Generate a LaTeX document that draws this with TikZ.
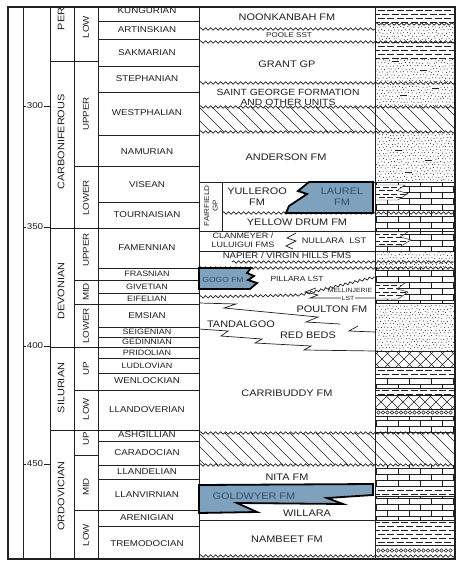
\documentclass[tikz,border=0pt]{standalone}
\usepackage{fontspec}
\setmainfont{Liberation Sans}[FakeStretch=1.15]
\usetikzlibrary{decorations.pathmorphing}

\definecolor{ink}{RGB}{32,32,32}
\definecolor{reefblue}{RGB}{126,161,190}
\definecolor{reefink}{RGB}{50,78,108}

\tikzset{
  colrule/.style={line width=.7pt, draw=ink},
  framerule/.style={line width=1.5pt, draw=ink},
  litrule/.style={line width=.45pt, draw=ink},
  wavyline/.style={colrule, decorate, decoration={snake, amplitude=1.2pt, segment length=5pt}},
  agelbl/.style={font=\fontsize{8.5}{8.5}\selectfont, text=ink, inner sep=1pt},
  unitlbl/.style={font=\fontsize{9.5}{9.5}\selectfont, text=ink, inner sep=0pt, rotate=90},
  epochlbl/.style={font=\fontsize{8.5}{8.5}\selectfont, text=ink, inner sep=0pt, rotate=90},
  stagelbl/.style={font=\fontsize{8.5}{8.5}\selectfont, text=ink, inner sep=0pt},
  thinstage/.style={font=\fontsize{7.8}{7.8}\selectfont, text=ink, inner sep=0pt},
  fmlbl/.style={font=\fontsize{9.5}{11}\selectfont, text=ink, inner sep=0pt, align=center},
  smallfm/.style={font=\fontsize{7.8}{9.5}\selectfont, text=ink, inner sep=0pt, align=center},
  reefbox/.style={fill=reefblue, draw=black, line width=1.8pt, line join=miter},
}

\newcommand{\shalefill}[2]{%
  \begin{scope}
    \clip (375.5,#1) rectangle (454.5,#2);
    \pgfmathtruncatemacro\ya{4*floor(#1/4)}
    \pgfmathtruncatemacro\yb{\ya+4}
    \pgfmathtruncatemacro\yc{#2+4}
    \foreach \yy [count=\k] in {\ya,\yb,...,\yc}{
      \pgfmathsetmacro\ph{4.5*mod(\k,2)}
      \draw[litrule, dash pattern=on 7pt off 2.5pt] (368+\ph,\yy+2) -- (455,\yy+2);
    }
  \end{scope}}

\newcommand{\limefill}[2]{%
  \begin{scope}
    \clip (375.5,#1) rectangle (454.5,#2);
    \pgfmathtruncatemacro\ya{6*floor(#1/6)}
    \pgfmathtruncatemacro\yb{\ya+6}
    \pgfmathtruncatemacro\yc{#2+6}
    \foreach \yy in {\ya,\yb,...,\yc}{
      \draw[litrule] (375,\yy) -- (455,\yy);
      \pgfmathsetmacro\sh{11*mod(\yy/6,2)}
      \foreach \xx in {354,376,...,454}
        \draw[litrule] (\xx+\sh,\yy) -- (\xx+\sh,\yy+6);
    }
  \end{scope}}

\newcommand{\sandfill}[2]{%
  \begin{scope}
    \clip (375.5,#1) rectangle (454.5,#2);
    \pgfmathtruncatemacro\ya{3*floor(#1/3)}
    \pgfmathtruncatemacro\yb{\ya+3}
    \pgfmathtruncatemacro\yc{#2+3}
    \foreach \yy [count=\k] in {\ya,\yb,...,\yc}{
      \pgfmathsetmacro\sh{1.75*mod(\k,2)}
      \foreach \xx in {376,379.5,...,456}
        \fill[ink] (\xx+\sh+0.7*rand,\yy+0.7*rand) circle (.5pt);
    }
  \end{scope}}

\newcommand{\diamondfill}[2]{%
  \begin{scope}
    \clip (375.5,#1) rectangle (454.5,#2);
    \foreach \xx in {330,341,...,460}{
      \draw[litrule] (\xx,#1) -- (\xx+#2-#1,#2);
      \draw[litrule] (\xx,#2) -- (\xx+#2-#1,#1);
    }
  \end{scope}}

\newcommand{\hatchband}[2]{%
  \begin{scope}
    \clip (199,#1) rectangle (455,#2);
    \foreach \xx in {160,173,...,460}
      \draw[colrule, line width=.7pt] (\xx,#1) -- (\xx+#2-#1,#2);
  \end{scope}}

\newcommand{\pebblefill}[2]{%
  \foreach \xx in {378.5,383,...,452}
    \draw[litrule] (\xx,#1/2+#2/2) circle (1.8pt);}

\newcommand{\tonguefill}[3]{%
  \begin{scope}
    \path[fill=white] (375.5,#1) -- (#3,#1) -- (#3-8,#1/2+#2/2-2) -- (#3+3,#1/2+#2/2+1) -- (#3-7,#2) -- (375.5,#2) -- cycle;
    \clip (375.5,#1) -- (#3,#1) -- (#3-8,#1/2+#2/2-2) -- (#3+3,#1/2+#2/2+1) -- (#3-7,#2) -- (375.5,#2) -- cycle;
    \foreach \dy [count=\k] in {2,5.5,...,20}{
      \pgfmathsetmacro\ph{4*mod(\k,2)}
      \draw[litrule, dash pattern=on 6pt off 2.5pt] (370+\ph,#1+\dy) -- (420,#1+\dy);
    }
  \end{scope}
  \draw[litrule] (375.5,#1) -- (#3,#1) -- (#3-8,#1/2+#2/2-2) -- (#3+3,#1/2+#2/2+1) -- (#3-7,#2) -- (375.5,#2);}

\begin{document}
\begin{tikzpicture}[x=1pt,y=-1pt]
  \useasboundingbox (0,0) rectangle (459,565);
  \fill[white] (0,0) rectangle (459,565);
  \pgfmathsetseed{7}

  \shalefill{7}{24}
  \sandfill{24}{42}
  \shalefill{42}{58}
  \sandfill{58}{107}
  \sandfill{132}{182}
  \foreach \x/\y in {392/61, 420/70, 400/95, 432/88, 395/150, 425/160, 405/172}
    \fill[white] (\x-1,\y-1.5) rectangle ++(9,3) (\x,\y) -- ++(7,0);
  \foreach \x/\y in {392/61, 420/70, 400/95, 432/88, 395/150, 425/160, 405/172}
    \draw[litrule] (\x,\y) -- ++(7,0);
  \limefill{182}{251}
  \tonguefill{185}{200}{405}
  \tonguefill{232}{246}{408}
  \sandfill{251}{268}
  \limefill{268}{303}
  \tonguefill{283}{299}{405}
  \sandfill{303}{351}
  \diamondfill{351}{367}
  \shalefill{367}{378}
  \limefill{378}{388}
  \shalefill{388}{395}
  \diamondfill{395}{409}
  \pebblefill{409}{416}
  \limefill{416}{433}
  \limefill{465}{486}
  \shalefill{486}{496}
  \limefill{496}{520}
  \shalefill{520}{545}
  \pebblefill{545}{556}
  \hatchband{107}{132}
  \hatchband{433}{465}

  \foreach \x in {23,50,74,98,199,375}
    \draw[colrule] (\x,7) -- (\x,559);
  \draw[colrule] (50,61) -- (98,61);
  \draw[colrule] (74,455) -- (98,455);
  \foreach \y in {228,347,430}
    \draw[colrule] (50,\y) -- (199,\y);
  \foreach \y in {166,280,304,390,510}
    \draw[colrule] (74,\y) -- (199,\y);
  \foreach \y in {21,39,66,92,135,202,268,293,327,337,358,373,441,465,479,526}
    \draw[colrule] (98,\y) -- (199,\y);
  \foreach \y in {182,231,251,520}
    \draw[colrule] (199,\y) -- (455,\y);
  \foreach \y in {303,351,367,378,388,395,409,416,486,496,545}
    \draw[colrule, line width=.5pt] (375,\y) -- (455,\y);
  \draw[colrule] (222,182) -- (222,231);

  \draw[wavyline] (199,29) -- (375,29);
  \draw[wavyline] (375,24) -- (455,24);
  \foreach \y in {42,83,107,132,268,433,465,556}
    \draw[wavyline] (199,\y) -- (455,\y);
  \draw[wavyline] (222,213) -- (455,213);
  \draw[wavyline] (232,262) -- (455,262);
  \draw[wavyline] (199,297) -- (300,295);
  \draw[wavyline] (300,295) -- (375,277);

  \draw[colrule] (296,233) -- (287,238) -- (296,241) -- (286,246) -- (293,249);
  \draw[colrule] (316,288) -- (305,292) -- (318,295) -- (310,298) -- (375,298);
  \draw[colrule] (199,303) -- (236,304) -- (224,308) -- (318,317) -- (306,322) -- (340,324);
  \draw[colrule] (358,326) -- (349,331) -- (375,332);
  \draw[colrule] (199,329) -- (228,331) -- (221,336) -- (262,339) -- (255,343) -- (311,346) -- (304,350) -- (375,351);

  \draw[reefbox] (309,182) -- (373,182) -- (373,213) -- (286,213) -- (289,206) -- (307,194) -- (298,191) -- cycle;
  \draw[reefbox] (199,268) -- (251,268) -- (247,273) -- (254,276) -- (248,280) -- (257,283) -- (250,289) -- (199,289) -- cycle;
  \draw[reefbox] (199,485) -- (373,484) -- (373,495) -- (327,498) -- (343,504) -- (237,503) -- (257,512) -- (199,513) -- cycle;

  \draw[framerule] (8,7) rectangle (455,559);

  \foreach \a/\y in {300/106, 350/227, 400/346, 450/464}{
    \node[agelbl] (age-\a) at (35,\y) {\a};
    \draw[colrule] (23,\y) -- (25.5,\y);
    \draw[colrule] (age-\a.east) -- (50,\y);
  }
  \foreach \nm/\y in {PER/19, CARBONIFEROUS/142, DEVONIAN/291, SILURIAN/388, ORDOVICIAN/496}
    \node[unitlbl] (per-\nm) at (61,\y) {\nm};
  \foreach \nm/\y/\k in {LOW/27/1, UPPER/114/2, LOWER/198/3, UPPER/250/4, MID/292/5, LOWER/326/6, UP/369/7, LOW/409/8, UP/439/9, MID/487/10, LOW/535/11}
    \node[epochlbl] (ep-\k) at (86,\y) {\nm};
  \foreach \nm/\y in {KUNGURIAN/11, ARTINSKIAN/30, SAKMARIAN/53, STEPHANIAN/79, WESTPHALIAN/113, NAMURIAN/152, VISEAN/185, TOURNAISIAN/215, FAMENNIAN/248, EMSIAN/316, WENLOCKIAN/381, LLANDOVERIAN/410, ASHGILLIAN/435, CARADOCIAN/453, LLANDELIAN/472, LLANVIRNIAN/495, ARENIGIAN/518, TREMODOCIAN/544}
    \node[stagelbl] (st-\nm) at (147,\y) {\nm};
  \foreach \nm/\y in {FRASNIAN/274, GIVETIAN/287, EIFELIAN/298.5, SEIGENIAN/332, GEDINNIAN/342, PRIDOLIAN/352.5, LUDLOVIAN/366}
    \node[thinstage] (st-\nm) at (147,\y) {\nm};

  \node[fmlbl] (noonkanbah) at (287,17) {NOONKANBAH FM};
  \node[smallfm, font=\fontsize{7}{7}\selectfont] (poole) at (289,35.5) {POOLE SST};
  \node[fmlbl] (grant) at (287,64) {GRANT GP};
  \node[fmlbl, font=\fontsize{9}{10}\selectfont] (stgeorge) at (288,97) {SAINT GEORGE FORMATION\\AND OTHER UNITS};
  \node[fmlbl] (anderson) at (286,157) {ANDERSON FM};
  \node[smallfm, font=\fontsize{7}{8.5}\selectfont, rotate=90] (fairfield) at (211,206) {FAIRFIELD\\GP};
  \node[fmlbl] (yulleroo) at (257,197) {YULLEROO\\FM};
  \node[fmlbl, text=reefink] (laurel) at (342,197) {LAUREL\\FM};
  \node[fmlbl] (yellowdrum) at (297,222.5) {YELLOW DRUM FM};
  \node[smallfm] (clanmeyer) at (243,240) {CLANMEYER /\\LULUIGUI FMS};
  \node[smallfm, font=\fontsize{8}{8}\selectfont] (nullara) at (334,241) {NULLARA\ \ LST};
  \node[smallfm, font=\fontsize{8.3}{8.3}\selectfont] (napier) at (287,255.5) {NAPIER / VIRGIN HILLS FMS};
  \node[smallfm, font=\fontsize{7.4}{7.4}\selectfont, text=reefink] (gogo) at (223,280) {GOGO FM};
  \node[smallfm, font=\fontsize{7.4}{7.4}\selectfont] (pillara) at (297,279) {PILLARA LST};
  \node[smallfm, font=\fontsize{6}{6}\selectfont] (mellinjerie) at (350,290.5) {MELLINJERIE};
  \node[smallfm, font=\fontsize{6}{6}\selectfont, fill=white, inner sep=.6pt] (mellst) at (348,298) {LST};
  \node[fmlbl] (poulton) at (332,309) {POULTON FM};
  \node[fmlbl] (tandalgoo) at (241,324.5) {TANDALGOO};
  \node[fmlbl] (redbeds) at (308,335) {RED BEDS};
  \node[fmlbl] (carribuddy) at (287,393) {CARRIBUDDY FM};
  \node[fmlbl] (nita) at (287,477.5) {NITA FM};
  \node[fmlbl, text=reefink] (goldwyer) at (254,496) {GOLDWYER FM};
  \node[fmlbl] (willara) at (307,513.5) {WILLARA};
  \node[fmlbl] (nambeet) at (287,539) {NAMBEET FM};
\end{tikzpicture}
\end{document}
